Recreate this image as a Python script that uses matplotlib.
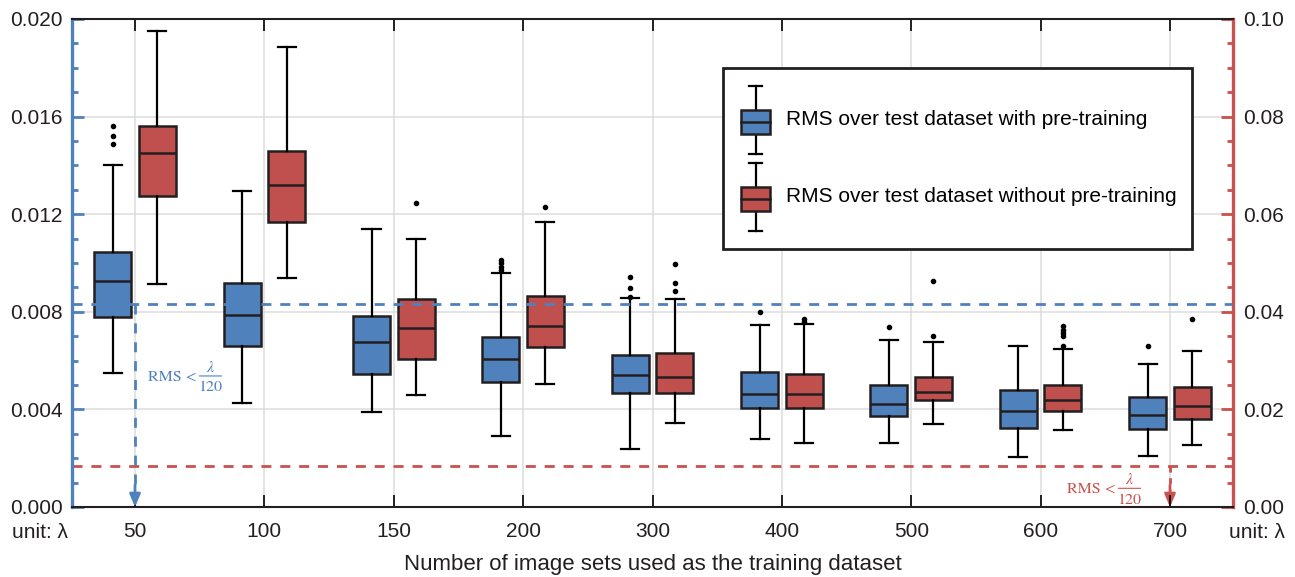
import matplotlib
matplotlib.use('Agg')
import matplotlib.pyplot as plt
import matplotlib.ticker as mticker
from matplotlib.legend_handler import HandlerBase
from matplotlib.patches import Patch, Rectangle
from matplotlib.lines import Line2D
from matplotlib.transforms import offset_copy

plt.rcParams['font.family'] = ['Liberation Sans', 'DejaVu Sans']
plt.rcParams['mathtext.fontset'] = 'stix'

# training set sizes
categories = ['50', '100', '150', '200', '300', '400', '500', '600', '700']

# with pre-training (left axis)
b_whislo = [0.00549, 0.00425, 0.00389, 0.00292, 0.00236, 0.00279, 0.00264, 0.00206, 0.00208]
b_q1 = [0.00779, 0.00661, 0.00545, 0.00514, 0.00469, 0.00407, 0.00374, 0.00325, 0.00321]
b_med = [0.00926, 0.00787, 0.00678, 0.00605, 0.00540, 0.00463, 0.00422, 0.00393, 0.00377]
b_q3 = [0.01045, 0.00918, 0.00784, 0.00697, 0.00624, 0.00555, 0.00500, 0.00481, 0.00452]
b_whishi = [0.01402, 0.01296, 0.01138, 0.00959, 0.00855, 0.00746, 0.00684, 0.00660, 0.00585]
b_fliers = [[0.01563, 0.01522, 0.01488], [], [], [0.01012, 0.00999, 0.00983, 0.00971],
            [0.00944, 0.00899, 0.00862], [0.0080], [0.00739], [], [0.00659]]

# without pre-training (right axis)
r_whislo = [0.0457, 0.0470, 0.0229, 0.0253, 0.0172, 0.0131, 0.0170, 0.0157, 0.0128]
r_q1 = [0.0637, 0.0585, 0.0303, 0.0327, 0.0233, 0.0203, 0.0219, 0.0197, 0.0180]
r_med = [0.0726, 0.0660, 0.0367, 0.0371, 0.0267, 0.0232, 0.0236, 0.0220, 0.0206]
r_q3 = [0.0781, 0.0730, 0.0426, 0.0432, 0.0316, 0.0273, 0.0267, 0.0249, 0.0245]
r_whishi = [0.0975, 0.0943, 0.0549, 0.0584, 0.0426, 0.0375, 0.0338, 0.0324, 0.0319]
r_fliers = [[], [], [0.0622], [0.0615], [0.0497, 0.0460, 0.0443], [0.0385, 0.0380],
            [0.0463, 0.0351], [0.0370, 0.0362, 0.0356, 0.0350, 0.0330], [0.0385]]

threshold = 1 / 120

blue = '#4f81bd'
red = '#c0504d'
red_line = '#c9514e'
dark = '#231f20'


def make_stats(lo, q1, med, q3, hi, fl):
    return [dict(whislo=a, q1=b, med=c, q3=d, whishi=e, fliers=f)
            for a, b, c, d, e, f in zip(lo, q1, med, q3, hi, fl)]


def rms_label(axis, x, y, color):
    # "RMS < lambda/120" with a full-size stacked fraction
    kw = dict(xy=(x, y), xycoords='data', textcoords='offset points', color=color,
              fontsize=11.5, family='STIXGeneral')
    axis.annotate('RMS <', xytext=(0, -3.2), ha='left', va='baseline', **kw)
    axis.annotate(r'$\lambda$', xytext=(45, 3.0), ha='center', va='baseline', **kw)
    axis.annotate('120', xytext=(45, -3.6), ha='center', va='top', **kw)
    t1 = offset_copy(axis.transData, fig=fig, x=37, y=0, units='points')
    t2 = offset_copy(axis.transData, fig=fig, x=53, y=0, units='points')
    axis.annotate('', xy=(x, y), xycoords=t2, xytext=(x, y), textcoords=t1,
                  arrowprops=dict(arrowstyle='-', color=color, lw=0.8, shrinkA=0, shrinkB=0))


class BoxIcon(HandlerBase):
    def create_artists(self, legend, orig_handle, xdescent, ydescent, width, height, fontsize, trans):
        x0, y0 = -xdescent, -ydescent
        cx = x0 + width / 2
        cap = width * 0.45
        blo, bhi = y0 + 0.30 * height, y0 + 0.65 * height
        med = (blo + bhi) / 2
        arts = [
            Line2D([cx, cx], [y0, blo], color='black', lw=1.6),
            Line2D([cx, cx], [bhi, y0 + height], color='black', lw=1.6),
            Line2D([cx - cap / 2, cx + cap / 2], [y0, y0], color='black', lw=1.6),
            Line2D([cx - cap / 2, cx + cap / 2], [y0 + height, y0 + height], color='black', lw=1.6),
            Rectangle((x0, blo), width, bhi - blo, facecolor=orig_handle.get_facecolor(),
                      edgecolor=dark, lw=1.8),
            Line2D([x0, x0 + width], [med, med], color=dark, lw=1.8),
        ]
        for a in arts:
            a.set_transform(trans)
        return arts


fig = plt.figure(figsize=(12.95, 5.77), dpi=100)
ax = fig.add_axes([72 / 1295, 70 / 577, 1161 / 1295, 488 / 577])
ax2 = ax.twinx()
ax.set_zorder(2)
ax2.set_zorder(1)
ax.patch.set_visible(False)

pos = list(range(len(categories)))
common = dict(widths=0.286, patch_artist=True, manage_ticks=False, capwidths=0.14,
              medianprops=dict(color=dark, lw=1.8),
              whiskerprops=dict(color='black', lw=1.6),
              capprops=dict(color='black', lw=1.6),
              flierprops=dict(marker='o', markerfacecolor='black', markeredgecolor='black',
                              markersize=3))

ax.bxp(make_stats(b_whislo, b_q1, b_med, b_q3, b_whishi, b_fliers),
       positions=[p - 0.172 for p in pos],
       boxprops=dict(facecolor=blue, edgecolor=dark, linewidth=1.8), **common)
ax2.bxp(make_stats(r_whislo, r_q1, r_med, r_q3, r_whishi, r_fliers),
        positions=[p + 0.172 for p in pos],
        boxprops=dict(facecolor=red, edgecolor=dark, linewidth=1.8), **common)

ax.set_xlim(-0.487, len(categories) - 1 + 0.487)
ax.set_ylim(0, 0.02)
ax2.set_ylim(0, 0.1)

# grid behind everything
ax2.yaxis.set_major_locator(mticker.MultipleLocator(0.02))
ax2.yaxis.set_minor_locator(mticker.MultipleLocator(0.005))
ax2.grid(True, axis='y', color='#dcdcdc', lw=1.1, zorder=0)
for p in pos:
    ax2.axvline(p, color='#dcdcdc', lw=1.1, zorder=0)

# threshold lines
ax.axhline(threshold, color=blue, lw=2, dashes=(3.6, 3.2), zorder=5)
ax2.axhline(threshold, color=red_line, lw=2, dashes=(3.6, 3.2), zorder=5)

ax.plot([0, 0], [threshold, 0.0007], color=blue, lw=2, dashes=(3.6, 3.2))
ax.annotate('', xy=(0, 0), xytext=(0, 0.0009),
            arrowprops=dict(arrowstyle='-|>,head_length=0.75,head_width=0.32', color=blue,
                            lw=2, shrinkA=0, shrinkB=0))
ax2.plot([8, 8], [threshold, 0.0035], color=red_line, lw=2, dashes=(2.2, 2.0))
ax2.annotate('', xy=(8, 0), xytext=(8, 0.0045),
             arrowprops=dict(arrowstyle='-|>,head_length=0.75,head_width=0.32', color=red_line,
                             lw=2, shrinkA=0, shrinkB=0))

rms_label(ax, 0.1, 0.00537, blue)
rms_label(ax2, 7.204, 0.00383, red_line)

# axes styling
ax.set_xticks(pos)
ax.set_xticklabels(categories)
ax.tick_params(axis='x', direction='in', top=True, length=8.6, width=1.2, color='black',
               pad=11, labelsize=15, labelcolor=dark)
ax.yaxis.set_major_locator(mticker.MultipleLocator(0.004))
ax.yaxis.set_minor_locator(mticker.MultipleLocator(0.001))
ax.yaxis.set_major_formatter(mticker.FormatStrFormatter('%.3f'))
ax.tick_params(axis='y', which='major', direction='in', length=8.6, width=2, color=blue,
               pad=6.5, labelsize=15, labelcolor=dark)
ax.tick_params(axis='y', which='minor', direction='in', length=4.5, width=2, color=blue)

ax2.yaxis.set_major_formatter(mticker.FormatStrFormatter('%.2f'))
ax2.tick_params(axis='y', which='major', direction='in', length=8.6, width=2, color=red_line,
                pad=7, labelsize=15, labelcolor=dark)
ax2.tick_params(axis='y', which='minor', direction='in', length=4.5, width=2, color=red_line)

ax.spines['left'].set_color(blue)
ax.spines['left'].set_linewidth(2.4)
ax.spines['right'].set_visible(False)
for s in ('top', 'bottom'):
    ax.spines[s].set_color(dark)
    ax.spines[s].set_linewidth(1.5)
for s in ('left', 'top', 'bottom'):
    ax2.spines[s].set_visible(False)
ax2.spines['right'].set_color(red_line)
ax2.spines['right'].set_linewidth(2.4)

ax.set_xlabel('Number of image sets used as the training dataset', fontsize=16,
              color=dark, labelpad=9)
fig.text(12 / 1295, 1 - 533 / 577, 'unit: λ', fontsize=15, color=dark, ha='left', va='center')
fig.text(1229 / 1295, 1 - 533 / 577, 'unit: λ', fontsize=15, color=dark, ha='left', va='center')

handles = [Patch(facecolor=blue), Patch(facecolor=red)]
labels = ['RMS over test dataset with pre-training', 'RMS over test dataset without pre-training']
leg = ax.legend(handles, labels, handler_map={Patch: BoxIcon()}, loc='upper left',
                bbox_to_anchor=(0.561, 0.527, 0.404, 0.373), mode='expand', borderaxespad=0,
                fontsize=15, handlelength=1.4, handleheight=4.7, labelspacing=0.4,
                borderpad=0.85, handletextpad=0.75, fancybox=False, framealpha=1,
                edgecolor=dark)
leg.get_frame().set_linewidth(2)
leg.set_zorder(10)

fig.savefig('out.png', dpi=100)
